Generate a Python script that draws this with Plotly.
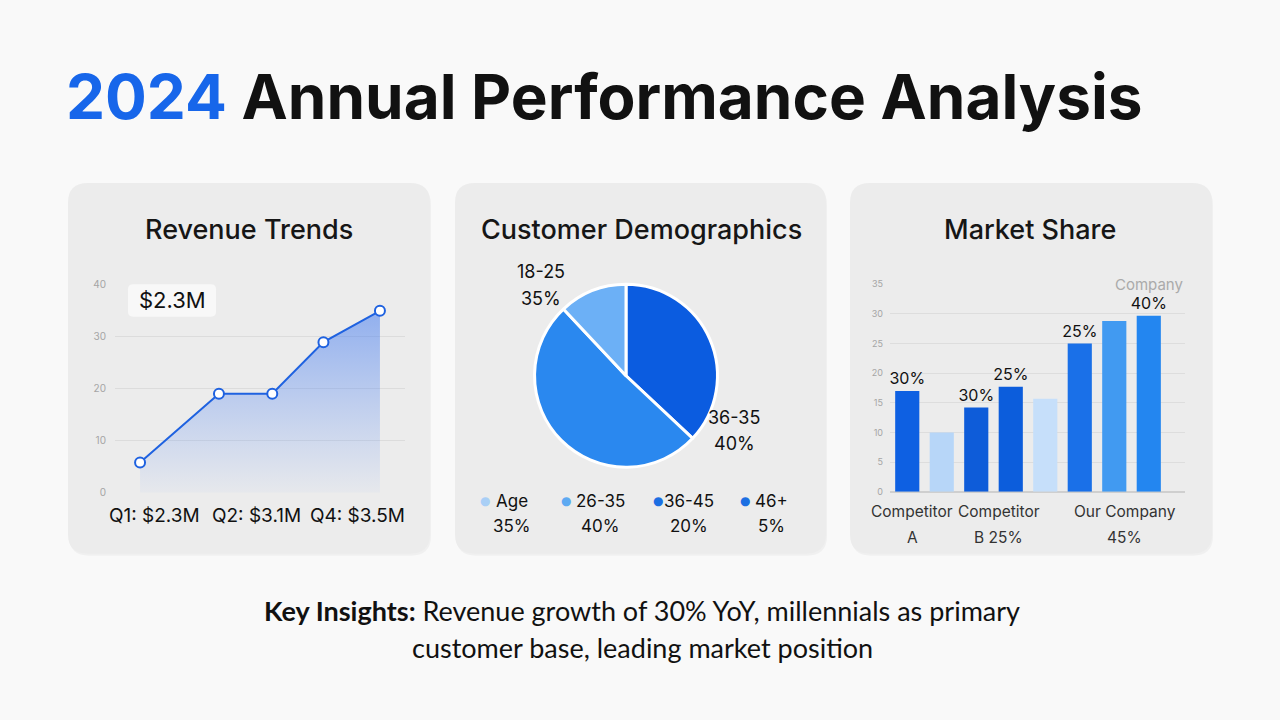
import plotly.graph_objects as go

W, H = 1280, 720

# ---------------- data ----------------
title_year = "2024"
title_rest = "Annual Performance Analysis"

rev_x = [0, 1.48, 2.48, 3.44, 4.5]
rev_y = [5.8, 19.0, 19.0, 28.9, 34.9]
rev_yticks = [0, 10, 20, 30, 40]
rev_labels = ["Q1: $2.3M", "Q2: $3.1M", "Q4: $3.5M"]
rev_label_x = [0.28, 2.18, 4.07]
rev_callout = "$2.3M"

pie_labels = ["36-45", "26-35", "18-25"]
pie_values = [37, 51, 12]
pie_colors = ["#0b5ce0", "#2a88ef", "#6cb0f6"]
pie_callouts = [("18-25", "35%", 541, 270), ("36-35", "40%", 734, 418)]
legend_names = ["Age", "26-35", "36-45", "46+"]
legend_pcts = ["35%", "40%", "20%", "5%"]
legend_colors = ["#a9cff6", "#5eaaf2", "#1c6fe2", "#1c6fe2"]

bar_x = [0, 1, 2, 3, 4, 5, 6, 7]
bar_y = [17.0, 10.0, 14.2, 17.7, 15.7, 25.0, 28.8, 29.7]
bar_text = ["30%", "", "30%", "25%", "", "25%", "", "40%"]
bar_colors = ["#0e60e2", "#b7d6f8", "#0e5cd9", "#0c5ddc", "#c6dffa", "#1a70e8", "#419af1", "#2386f0"]
bar_yticks = [0, 5, 10, 15, 20, 25, 30, 35]
bar_cat_labels = [("Competitor", "A", 0.15), ("Competitor", "B 25%", 2.65), ("Our Company", "45%", 6.3)]

insight_bold = "Key Insights:"
insight_line1 = " Revenue growth of 30% YoY, millennials as primary"
insight_line2 = "customer base, leading market position"

# ---------------- helpers ----------------
def px(x):
    return x / W

def py(y):
    return 1 - y / H

def rrect(x0, y0, x1, y1, r):
    a, b, c, d = px(x0), py(y0), px(x1), py(y1)
    rx, ry = r / W, r / H
    return (f"M {a+rx},{b} L {c-rx},{b} Q {c},{b} {c},{b-ry} "
            f"L {c},{d+ry} Q {c},{d} {c-rx},{d} L {a+rx},{d} "
            f"Q {a},{d} {a},{d+ry} L {a},{b-ry} Q {a},{b} {a+rx},{b} Z")

FONT = "Inter"
fig = go.Figure()

# ---------------- line chart ----------------
fig.add_trace(go.Scatter(
    x=rev_x, y=rev_y, mode="lines+markers",
    line=dict(color="#1f62e0", width=2),
    marker=dict(size=10, color="white", line=dict(color="#1f62e0", width=2)),
    fill="tozeroy",
    fillgradient=dict(type="vertical",
                      colorscale=[[0, "rgba(90,140,245,0.04)"], [1, "rgba(70,125,240,0.55)"]]),
    xaxis="x", yaxis="y", hoverinfo="skip", showlegend=False))

# ---------------- pie ----------------
fig.add_trace(go.Pie(
    labels=pie_labels, values=pie_values, sort=False, direction="clockwise", rotation=0,
    marker=dict(colors=pie_colors, line=dict(color="white", width=3)),
    textinfo="none", hoverinfo="label+percent", showlegend=False,
    domain=dict(x=[px(533), px(719)], y=[py(469), py(283)])))

# ---------------- bars ----------------
fig.add_trace(go.Bar(
    x=bar_x, y=bar_y, width=0.7, marker=dict(color=bar_colors, line=dict(width=0)),
    text=bar_text, textposition="outside", cliponaxis=False, constraintext="none",
    textfont=dict(family=FONT, size=16, color="#111"),
    xaxis="x2", yaxis="y2", hoverinfo="skip", showlegend=False))

# ---------------- shapes (cards) ----------------
shapes = []
for (x0, x1) in [(68, 430), (455, 826), (850, 1212)]:
    shapes.append(dict(type="path", path=rrect(x0 + 1, 182, x1 + 1, 559, 20), xref="paper", yref="paper",
                       fillcolor="rgba(0,0,0,0.035)", line=dict(width=0), layer="below"))
    shapes.append(dict(type="path", path=rrect(x0, 180, x1, 557, 20), xref="paper", yref="paper",
                       fillcolor="#ececec", line=dict(width=0), layer="below"))
# callout box
shapes.append(dict(type="path", path=rrect(128, 283, 216, 316, 5), xref="paper", yref="paper",
                   fillcolor="rgba(250,250,250,0.85)", line=dict(width=0), layer="below"))

# ---------------- annotations ----------------
ann = []

def add(text, x, y, size, color="#111", family=FONT, xref="paper", xanchor="center", weight=None, **kw):
    f = dict(family=family, size=size, color=color)
    if weight:
        f["weight"] = weight
    ann.append(dict(x=x, y=y, xref=xref, yref="paper", xanchor=xanchor, yanchor="middle",
                    text=text, showarrow=False, font=f, **kw))

add(f"<b><span style='color:#1766ea'>{title_year}</span> {title_rest}</b>", px(64), py(92), 62,
    xanchor="left")

for t, cx in [("Revenue Trends", 249), ("Customer Demographics", 641), ("Market Share", 1030)]:
    add(t, px(cx), py(227), 27, color="#161616", weight=500)

add(rev_callout, px(172), py(299), 22)
for lab, lx in zip(rev_labels, rev_label_x):
    add(lab, lx, py(518), 19, xref="x")

for t1, t2, cx, cy in pie_callouts:
    add(t1, px(cx), py(cy), 18)
    add(t2, px(cx), py(cy + 27), 18)

legend_dot_x = [485, 566, 658, 745]
legend_text_x = [512, 600, 689, 771]
for name, pct, col, dx, tx in zip(legend_names, legend_pcts, legend_colors, legend_dot_x, legend_text_x):
    add("●", px(dx), py(503), 12, color=col, family="DejaVu Sans")
    add(name, px(tx), py(503), 17)
    add(pct, px(tx), py(529), 17)

add("Company", 7.0, py(283), 15, color="#aaaaaa", xref="x2")
for t1, t2, cx in bar_cat_labels:
    add(t1, cx, py(514), 15.5, color="#333", xref="x2")
    add(t2, cx, py(540), 15.5, color="#333", xref="x2")

add(f"<b>{insight_bold}</b>{insight_line1}", px(642), py(615), 27, family="Lato")
add(insight_line2, px(642), py(652), 27, family="Lato")

fig.update_layout(
    width=W, height=H, margin=dict(l=0, r=0, t=0, b=0),
    paper_bgcolor="#f9f9f9", plot_bgcolor="rgba(0,0,0,0)",
    shapes=shapes, annotations=ann, bargap=0.3,
    xaxis=dict(domain=[px(115), px(405)], range=[-0.47, 4.97], visible=False, fixedrange=True),
    yaxis=dict(domain=[py(495), py(283)], range=[0, 40], tickvals=rev_yticks,
               gridcolor="#dcdcdc", gridwidth=1, zeroline=False, showline=False, ticks="",
               tickfont=dict(family=FONT, size=10, color="#a5a5a5"), ticklabelstandoff=8, anchor="x"),
    xaxis2=dict(domain=[px(890), px(1185)], range=[-0.5, 8.05], visible=False, anchor="y2"),
    yaxis2=dict(domain=[py(494), py(283)], range=[0, 35], tickvals=bar_yticks,
                gridcolor="#dddddd", gridwidth=1, zeroline=True, zerolinecolor="#cfcfcf", showline=False,
                ticks="", tickfont=dict(family=FONT, size=9, color="#a5a5a5"), ticklabelstandoff=6,
                anchor="x2"),
)

fig.write_html("out.html")
